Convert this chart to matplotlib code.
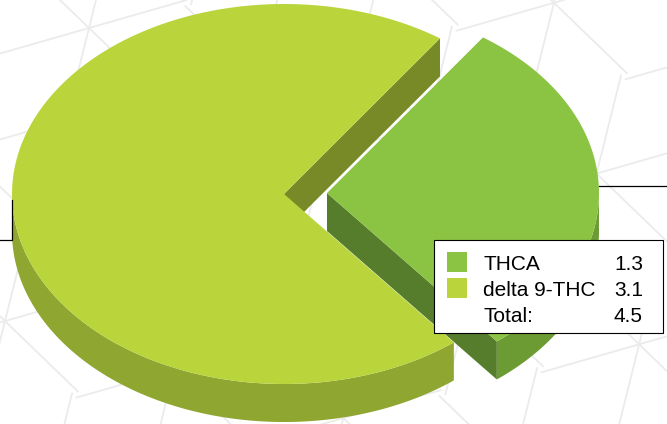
import numpy as np
import matplotlib
matplotlib.use("Agg")
import matplotlib.pyplot as plt
from matplotlib.patches import Polygon, Rectangle

# ---------------- data ----------------
categories = ["THCA", "delta 9-THC"]
values = [1.3, 3.1]
value_labels = ["1.3", "3.1"]
total_text = "Total:"
total_label = "4.5"

# ---------------- styles ----------------
colors_top = ["#8BC343", "#B9D53B"]
colors_outer = ["#6C9B33", "#8FA630"]
colors_cut = ["#567D2C", "#788927"]
pattern_color = "#EBEBEB"

W, H = 667, 424
fig = plt.figure(figsize=(W / 100, H / 100), dpi=100)
ax = fig.add_axes([0, 0, 1, 1])
ax.set_xlim(0, W)
ax.set_ylim(H, 0)
ax.axis("off")
fig.patch.set_facecolor("white")

# ---------------- background pattern (rhombille / tumbling blocks) ----------------
a_lat = 176.0
s_len = a_lat / np.sqrt(3)
origin = np.array([89.0, 28.0])
ang_u = -16.0
ang_v = -76.0
u = a_lat * np.array([np.cos(np.deg2rad(ang_u)), -np.sin(np.deg2rad(ang_u))])
v = a_lat * np.array([np.cos(np.deg2rad(ang_v)), -np.sin(np.deg2rad(ang_v))])
for m in range(-6, 8):
    for n in range(-6, 8):
        p = origin + m * u + n * v
        if p[0] < -250 or p[0] > W + 250 or p[1] < -250 or p[1] > H + 250:
            continue
        for k in range(6):
            th = np.deg2rad(16.0 + 60 * k)
            q = p + s_len * np.array([np.cos(th), -np.sin(th)])
            ax.plot([p[0], q[0]], [p[1], q[1]], color=pattern_color, lw=1.3,
                    zorder=0, solid_capstyle="round")

# ---------------- 3D pie geometry ----------------
cx, cy = 284.0, 194.0
rx, ry = 272.0, 190.0
depth = 38.0
explode = [43.0, 0.0]
start = 55.0  # math angle (deg) where the first slice begins; clockwise

fr = np.array(values) / np.sum(values)
slices = []
cur = start
for i, f in enumerate(fr):
    hi = cur
    lo = cur - f * 360.0
    cur = lo
    mid = np.deg2rad((lo + hi) / 2)
    c = np.array([cx + explode[i] * np.cos(mid), cy - explode[i] * (ry / rx) * np.sin(mid)])
    slices.append((lo, hi, c))


def pt(c, t_deg, z=0.0):
    t = np.deg2rad(t_deg)
    return np.array([c[0] + rx * np.cos(t), c[1] - ry * np.sin(t) + z])


def arc(c, t0, t1, z=0.0, n=200):
    ts = np.linspace(t0, t1, n)
    return np.array([pt(c, t, z) for t in ts])


def draw_top(i, zo):
    lo, hi, c = slices[i]
    poly = np.vstack([c[None, :], arc(c, lo, hi)])
    ax.add_patch(Polygon(poly, closed=True, facecolor=colors_top[i], edgecolor="none", zorder=zo))


def draw_walls(i, zo):
    lo, hi, c = slices[i]
    # outer wall: visible where sin(t) < 0
    for k in range(-2, 2):
        a0 = max(lo, 180 + 360 * k)
        a1 = min(hi, 360 + 360 * k)
        if a1 > a0:
            top = arc(c, a0, a1)
            bot = arc(c, a1, a0, depth)
            ax.add_patch(Polygon(np.vstack([top, bot]), closed=True,
                                 facecolor=colors_outer[i], edgecolor="none", zorder=zo))
    # cut faces
    for edge, normal in ((lo, lo - 90), (hi, hi + 90)):
        if np.sin(np.deg2rad(normal)) < 0:
            e0 = pt(c, edge)
            poly = np.array([c, e0, e0 + [0, depth], c + [0, depth]])
            ax.add_patch(Polygon(poly, closed=True, facecolor=colors_cut[i],
                                 edgecolor="none", zorder=zo))


# painter's order: exploded slice walls, then main slice, then exploded top
draw_walls(0, 2)
draw_walls(1, 3)
draw_top(1, 4)
draw_top(0, 5)

# ---------------- leader lines ----------------
lo, hi, c = slices[0]
p0 = pt(c, (lo + hi) / 2)
ax.plot([p0[0], W], [p0[1] - 1, p0[1] - 1], color="black", lw=0.9, zorder=6)
lo, hi, c = slices[1]
p1 = pt(c, (lo + hi) / 2)
ax.plot([p1[0], p1[0], 0], [p1[1], 240, 240], color="black", lw=0.9, zorder=6)

# ---------------- legend box ----------------
bx0, by0, bx1, by1 = 434, 240, 663, 333
ax.add_patch(Rectangle((bx0, by0), bx1 - bx0, by1 - by0, facecolor="white",
                       edgecolor="black", lw=0.8, zorder=7))
row_y = [262, 288, 314]
fs = 15
for i, (name, val) in enumerate(zip(categories, value_labels)):
    ax.add_patch(Rectangle((447, row_y[i] - 10), 20, 20, facecolor=colors_top[i],
                           edgecolor="none", zorder=8))
    ax.text(483, row_y[i], name, fontsize=fs, family="Liberation Sans",
            va="center_baseline", ha="left", zorder=9, color="black")
    ax.text(643, row_y[i], val, fontsize=fs, family="Liberation Sans",
            va="center_baseline", ha="right", zorder=9, color="black")
ax.text(483, row_y[2], total_text, fontsize=fs, family="Liberation Sans",
        va="center_baseline", ha="left", zorder=9, color="black")
ax.text(643, row_y[2], total_label, fontsize=fs, family="Liberation Sans",
        va="center_baseline", ha="right", zorder=9, color="black")

fig.savefig("out.png", dpi=100, facecolor="white")
